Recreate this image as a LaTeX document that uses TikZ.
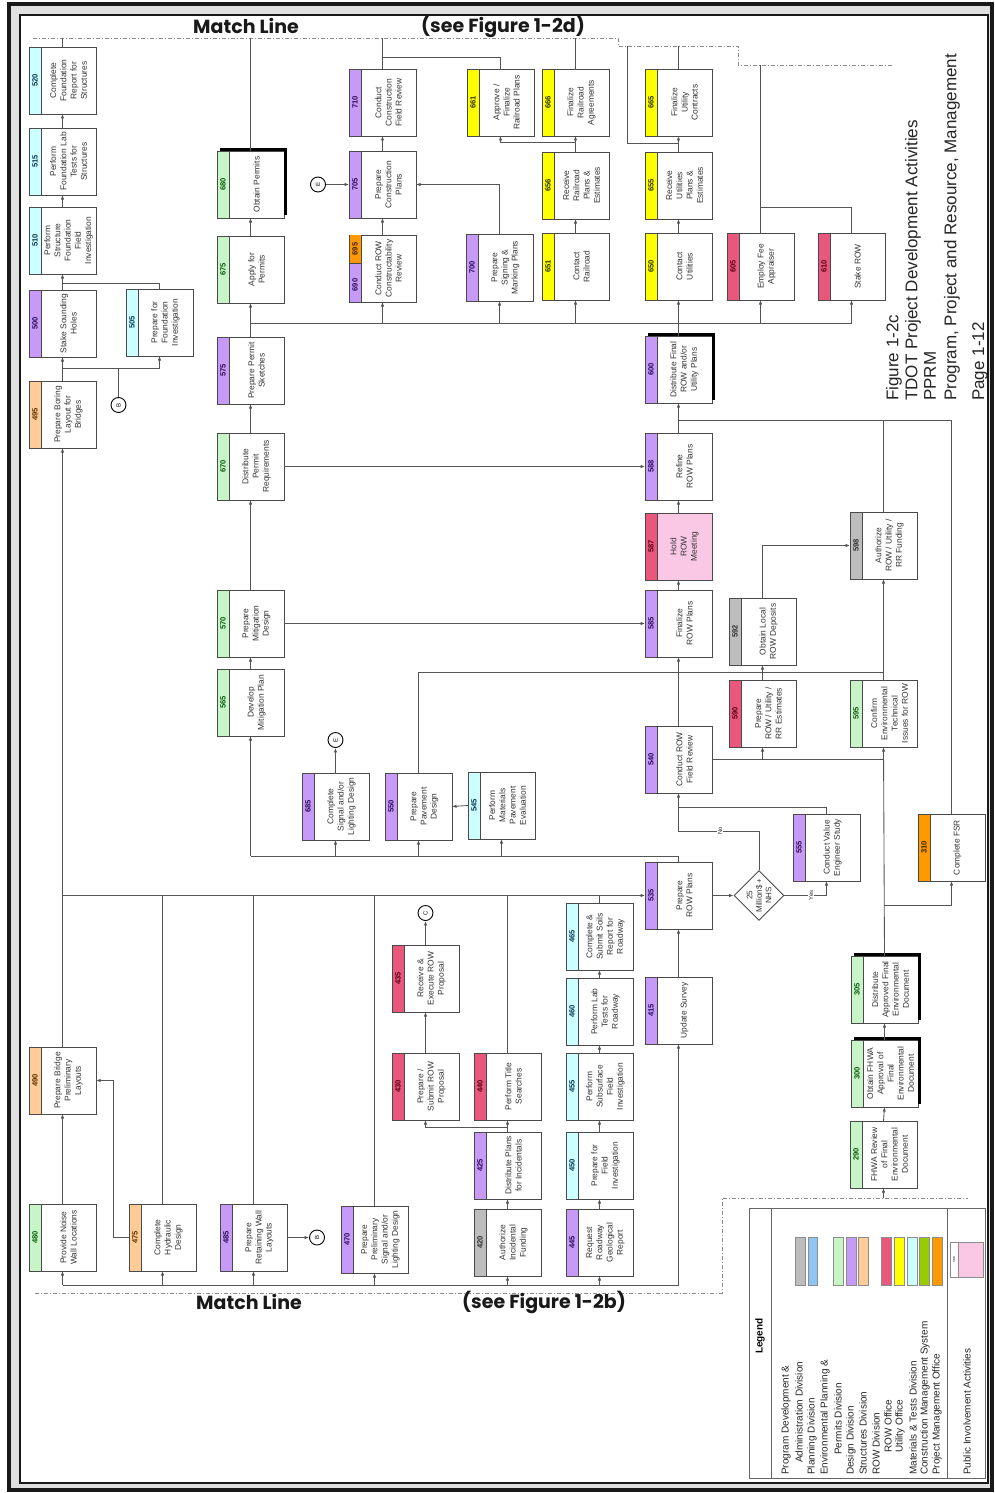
\documentclass[tikz,border=0pt]{standalone}
\usepackage{fontspec}
\usepackage{graphicx}
\setmainfont{Liberation Sans}
\newfontfamily\matchfont{Poppins}
\usetikzlibrary{arrows.meta,shapes.geometric,calc}

% division colours (strip fill) and matching number colours
\definecolor{cGray}{HTML}{BDBDBD}\definecolor{nGray}{HTML}{2E2E2E}
\definecolor{cBlue}{HTML}{8EC5F2}\definecolor{nBlue}{HTML}{0A2A55}
\definecolor{cEnv}{HTML}{C8F5C8}\definecolor{nEnv}{HTML}{0B5A0B}
\definecolor{cDes}{HTML}{C69AF6}\definecolor{nDes}{HTML}{2A0A5A}
\definecolor{cStr}{HTML}{FFCB96}\definecolor{nStr}{HTML}{5A3000}
\definecolor{cRow}{HTML}{E9587C}\definecolor{nRow}{HTML}{5A0012}
\definecolor{cUti}{HTML}{FFFF00}\definecolor{nUti}{HTML}{2E2E00}
\definecolor{cMat}{HTML}{CCFFFF}\definecolor{nMat}{HTML}{0A3350}
\definecolor{cCms}{HTML}{99CC00}\definecolor{nCms}{HTML}{203000}
\definecolor{cPmo}{HTML}{FF9900}\definecolor{nPmo}{HTML}{3A2000}
\definecolor{cPub}{HTML}{FAC8E4}
\definecolor{lineC}{HTML}{555555}
\definecolor{boxC}{HTML}{4A4A4A}
\definecolor{textC}{HTML}{333333}

\tikzset{
  taskbox/.style={rectangle, minimum width=67pt, minimum height=67pt, inner sep=0pt, outer sep=0pt},
  boxline/.style={draw=boxC, line width=0.9pt},
  tasktext/.style={rotate=90, align=center, text=textC, inner sep=0pt, font=\fontsize{8.4}{10.2}\selectfont},
  numtext/.style={rotate=90, inner sep=0pt, font=\bfseries\fontsize{7.6}{8}\selectfont},
  ln/.style={draw=lineC, line width=0.85pt},
  ar/.style={ln, -{Latex[length=4.5pt,width=3.4pt]}},
  conn/.style={circle, draw=black, line width=0.9pt, minimum size=15pt, inner sep=0pt, fill=white},
  yesno/.style={rotate=90, inner sep=1pt, fill=white, font=\fontsize{6}{6}\selectfont, text=textC},
  matchdash/.style={draw=black!45, line width=0.8pt, dash pattern=on 4pt off 2pt on 1pt off 2pt},
  heavy/.style={line width=3pt, draw=black},
  titletext/.style={rotate=90, anchor=west, inner sep=0pt, text=black!85, font=\fontsize{17}{17}\selectfont},
  legtext/.style={rotate=90, anchor=west, inner sep=0pt, text=black!85, font=\fontsize{10}{10}\selectfont},
  matchtext/.style={inner sep=0pt, text=black!90, font=\matchfont\bfseries\fontsize{19}{19}\selectfont},
  swatch/.style={draw=black!45, line width=0.6pt},
}

% activity box: [body fill] name, left x, top y, division key, number, text
\newcommand\tbox[7][white]{%
  \node[taskbox, fill=#1] (#2) at (#3+33.5,#4+33.5) {};
  \fill[c#5] (#2.north west) rectangle ([xshift=12pt]#2.south west);
  \draw[boxline] (#2.north west) rectangle (#2.south east);
  \draw[boxline] ([xshift=12pt]#2.north west) -- ([xshift=12pt]#2.south west);
  \node[numtext, text=n#5] at ([xshift=6pt]#2.west) {#6};
  \node[tasktext] at ([xshift=6pt]#2.center) {#7};
}
% heavy edge along the top and right of milestone boxes
\newcommand\heavyedge[1]{%
  \draw[heavy] ([shift={(3pt,1.5pt)}]#1.north west) -- ([shift={(1.5pt,1.5pt)}]#1.north east)
    -- ([shift={(1.5pt,3pt)}]#1.south east);}

\begin{document}
\begin{tikzpicture}[x=1pt,y=-1pt]
\useasboundingbox (0,0) rectangle (994,1493);
\fill[white] (0,0) rectangle (994,1493);

% page frame
\fill[black!12, even odd rule] (9,4) rectangle (992,1490) (20,15) rectangle (988,1483);
\draw[line width=4pt, black!90] (9,4) rectangle (992,1490);
\draw[line width=1.6pt, black!90] (20,15) rectangle (988,1483);

% match lines
\draw[matchdash] (33,38) -- (618,38) -- (618,46) -- (738,46) -- (738,65) -- (893,65);
\draw[matchdash] (35,1293) -- (722,1293) -- (722,1198) -- (968,1198);
\node[matchtext] (mlt) at (246,26) {Match Line};
\node[matchtext] (sft) at (503,26) {(see Figure 1-2d)};
\node[matchtext] (mlb) at (249,1302) {Match Line};
\node[matchtext] (sfb) at (544,1302) {(see Figure 1-2b)};

% ---------------- activity boxes ----------------
\tbox{n520}{29}{47}{Mat}{520}{Complete\\Foundation\\Report for\\Structures}
\tbox{n515}{29}{128}{Mat}{515}{Perform\\Foundation Lab\\Tests for\\Structures}
\tbox{n510}{29}{207}{Mat}{510}{Perform\\Structure\\Foundation\\Field\\Investigation}
\tbox{n500}{29}{290}{Des}{500}{Stake Sounding\\Holes}
\tbox{n505}{126}{289}{Mat}{505}{Prepare for\\Foundation\\Investigation}
\tbox{n495}{29}{381}{Str}{495}{Prepare Boring\\Layout for\\Bridges}
\tbox{n490}{29}{1047}{Str}{490}{Prepare Bridge\\Preliminary\\Layouts}
\tbox{n480}{29}{1204}{Env}{480}{Provide Noise\\Wall Locations}
\tbox{n475}{129}{1204}{Str}{475}{Complete\\Hydraulic\\Design}
\tbox{n485}{220}{1204}{Des}{485}{Prepare\\Retaining Wall\\Layouts}

\tbox{n680}{217}{151}{Env}{680}{Obtain Permits}
\tbox{n675}{217}{236}{Env}{675}{Apply for\\Permits}
\tbox{n575}{217}{337}{Des}{575}{Prepare Permit\\Sketches}
\tbox{n670}{217}{433}{Env}{670}{Distribute\\Permit\\Requirements}
\tbox{n570}{217}{590}{Env}{570}{Prepare\\Mitigation\\Design}
\tbox{n565}{217}{669}{Env}{565}{Develop\\Mitigation Plan}

\tbox{n710}{349}{69}{Des}{710}{Conduct\\Construction\\Field Review}
\tbox{n705}{349}{151}{Des}{705}{Prepare\\Construction\\Plans}
\tbox{n690}{349}{235}{Des}{}{Conduct ROW\\Constructability\\Review}
\fill[cPmo] (n690.north west) rectangle ([xshift=12pt,yshift=-28pt]n690.north west);
\draw[boxline] (n690.north west) -- (n690.south west);
\draw[boxline] ([xshift=12pt]n690.north west) -- ([xshift=12pt]n690.south west);
\draw[boxline] ([yshift=-28pt]n690.north west) -- ([xshift=12pt,yshift=-28pt]n690.north west);
\node[numtext, text=nPmo] at ([xshift=6pt,yshift=-14pt]n690.north west) {695};
\node[numtext, text=nDes] at ([xshift=6pt,yshift=17pt]n690.south west) {690};

\tbox{n661}{467}{69}{Uti}{661}{Approve /\\Finalize\\Railroad Plans}
\tbox{n700}{466}{234}{Des}{700}{Prepare\\Signing \&\\Marking Plans}
\tbox{n666}{542}{69}{Uti}{666}{Finalize\\Railroad\\Agreements}
\tbox{n656}{542}{152}{Uti}{656}{Receive\\Railroad\\Plans \&\\Estimates}
\tbox{n651}{542}{233}{Uti}{651}{Contact\\Railroad}
\tbox{n665}{645}{69}{Uti}{665}{Finalize\\Utility\\Contracts}
\tbox{n655}{645}{152}{Uti}{655}{Receive\\Utilities\\Plans \&\\Estimates}
\tbox{n650}{645}{233}{Uti}{650}{Contact\\Utilities}
\tbox{n605}{727}{233}{Row}{605}{Employ Fee\\Appraiser}
\tbox{n610}{818}{233}{Row}{610}{Stake ROW}

\tbox{n600}{645}{336}{Des}{600}{Distribute Final\\ROW and/or\\Utility Plans}
\tbox{n588}{645}{433}{Des}{588}{Refine\\ROW Plans}
\tbox[cPub]{n587}{645}{513}{Row}{587}{Hold\\ROW\\Meeting}
\tbox{n585}{645}{590}{Des}{585}{Finalize\\ROW Plans}
\tbox{n540}{645}{726}{Des}{540}{Conduct ROW\\Field Review}
\tbox{n535}{645}{862}{Des}{535}{Prepare\\ROW Plans}
\tbox{n415}{645}{977}{Des}{415}{Update Survey}

\tbox{n592}{729}{598}{Gray}{592}{Obtain Local\\ROW Deposits}
\tbox{n590}{729}{680}{Row}{590}{Prepare\\ROW / Utility /\\RR Estimates}
\tbox{n598}{850}{512}{Gray}{598}{Authorize\\ROW / Utility /\\RR Funding}
\tbox{n595}{850}{680}{Env}{595}{Confirm\\Environmental\\Technical\\Issues for ROW}

\tbox{n685}{302}{773}{Des}{685}{Complete\\Signal and/or\\Lighting Design}
\tbox{n550}{385}{773}{Des}{550}{Prepare\\Pavement\\Design}
\tbox{n545}{468}{772}{Mat}{545}{Perform\\Materials\\Pavement\\Evaluation}
\tbox{n555}{793}{814}{Des}{555}{Conduct Value\\Engineer Study}
\tbox{n310}{918}{814}{Pmo}{310}{Complete FSR}

\tbox{n435}{392}{945}{Row}{435}{Receive \&\\Execute ROW\\Proposal}
\tbox{n430}{392}{1053}{Row}{430}{Prepare /\\Submit ROW\\Proposal}
\tbox{n440}{474}{1053}{Row}{440}{Perform Title\\Searches}
\tbox{n425}{474}{1132}{Des}{425}{Distribute Plans\\for Incidentals}
\tbox{n420}{474}{1209}{Gray}{420}{Authorize\\Incidental\\Funding}
\tbox{n470}{341}{1206}{Des}{470}{Prepare\\Preliminary\\Signal and/or\\Lighting Design}

\tbox{n465}{566}{903}{Mat}{465}{Complete \&\\Submit Soils\\Report for\\Roadway}
\tbox{n460}{566}{978}{Mat}{460}{Perform Lab\\Tests for\\Roadway}
\tbox{n455}{566}{1053}{Mat}{455}{Perform\\Subsurface\\Field\\Investigation}
\tbox{n450}{566}{1132}{Mat}{450}{Prepare for\\Field\\Investigation}
\tbox{n445}{566}{1209}{Des}{445}{Request\\Roadway\\Geological\\Report}

\tbox{n305}{851}{956}{Env}{305}{Distribute\\Approved Final\\Environmental\\Document}
\tbox{n300}{851}{1040}{Env}{300}{Obtain FHWA\\Approval of\\Final\\Environmental\\Document}
\tbox{n290}{850}{1121}{Env}{290}{FHWA Review\\of Final\\Environmental\\Document}

\heavyedge{n680}
\heavyedge{n600}
\heavyedge{n305}
\heavyedge{n300}

% decision and off-page connectors
\node[diamond, draw=boxC, line width=0.9pt, fill=white, minimum width=50pt, minimum height=50pt, inner sep=0pt] (dv) at (759,895.5) {};
\node[rotate=90, align=center, inner sep=0pt, text=textC, font=\fontsize{8}{9.5}\selectfont] (dvt) at (759,895.5) {25\\Million\$ +\\NHS};
\node[conn] (cB1) at (118.5,405) {\rotatebox{90}{\fontsize{6}{6}\selectfont B}};
\node[conn] (cB2) at (317,1237.5) {\rotatebox{90}{\fontsize{6}{6}\selectfont B}};
\node[conn] (cE1) at (318,184.5) {\rotatebox{90}{\fontsize{6}{6}\selectfont E}};
\node[conn] (cE2) at (335.5,740) {\rotatebox{90}{\fontsize{6}{6}\selectfont E}};
\node[conn] (cC) at (425.5,913) {\rotatebox{90}{\fontsize{6}{6}\selectfont C}};

% ---------------- connectors ----------------
\coordinate (mt) at (62.5,38);
% foundation investigation
\coordinate (j510) at (62.5,283);
\draw[ln] (n500.north) -- (j510);
\draw[ln] (n505.north) |- (j510);
\draw[ar] (j510) -- (n510.south);
\draw[ar] (n510.north) -- (n515.south);
\draw[ar] (n515.north) -- (n520.south);
\draw[ln] (n520.north) -- (mt);
\coordinate (j500) at (62.5,368);
\draw[ln] (n495.north) -- (j500);
\draw[ar] (j500) -- (n500.south);
\draw[ar] (j500) -| (n505.south);
\draw[ln] (cB1.north) -- (cB1.north |- j500);

% main design bus
\coordinate (jL) at (62.5,895.5);
\draw[ln] (n490.north) -- (jL);
\draw[ar] (jL) -- (n495.south);
\draw[ar] (jL) -- (n535.west);
\foreach \n in {n475,n485,n470,n440,n465} \draw[ln] (\n.north) -- (\n.north |- jL);

% ROW plans feed design activities
\coordinate (j856) at (250.5,856);
\draw[ln] (n535.north) |- (j856);
\draw[ar] (j856) -- (n565.south);
\foreach \n in {n685,n550,n545} \draw[ar] (\n.south |- j856) -- (\n.south);
\draw[ar] (n685.north) -- (cE2.south);
\draw[ar] (n545.west) -- (n550.east);

\coordinate (j672) at (883.5,672);
\draw[ln] (n550.north) |- (j672);
\draw[ar] (n590.north) -- (n592.south);
\draw[ar] (n595.north) -- (n598.south);
\draw[ar] (n592.north) |- (n598.west);

% ROW plans chain
\draw[ar] (n540.north) -- (n585.south);
\draw[ar] (n585.north) -- (n587.south);
\draw[ar] (n587.north) -- (n588.south);
\draw[ar] (n570.east) -- (n585.west);
\draw[ar] (n670.east) -- (n588.west);
\coordinate (j600) at (678.5,420);
\draw[ln] (n588.north) -- (j600);
\draw[ar] (j600) -- (n600.south);
\draw[ln] (n310.north) |- (j600);
\draw[ln] (n598.north) -- (n598.north |- j600);

\draw[ln] (n540.east) -- (n540.east -| n595.south);
\draw[ar] (n540.east -| n590.south) -- (n590.south);
\draw[ar] (n305.north) -- (n595.south);
\coordinate (j310) at (883.5,905);
\draw[ar] (j310) -| (n310.south);

% value engineering decision
\draw[ar] (n535.east) -- (dv.west);
\coordinate (kno) at (759,831);
\coordinate (kno2) at (678.5,831);
\draw[ar] (dv.north) -- (kno) -- (kno2) -- (n540.south);
\node[yesno] (lno) at (720,831) {No};
\draw[ar] (dv.east) -| (n555.south);
\node[yesno] (lyes) at (811,895.5) {Yes};
\coordinate (k555) at (678.5,807);
\draw[ln] (n555.north) |- (k555);
\draw[ar] (n415.north) -- (n535.south);

% distribution of final plans
\coordinate (bL) at (250.5,323);
\coordinate (bR) at (851.5,323);
\draw[ln] (bL) -- (bR);
\draw[ln] (n600.north) -- (n600.north |- bL);
\foreach \n in {n690,n700,n651,n650,n605,n610} \draw[ar] (\n.south |- bL) -- (\n.south);
\draw[ar] (n575.north) -- (n675.south);
\draw[ar] (n670.north) -- (n575.south);
\draw[ar] (n570.north) -- (n670.south);
\draw[ar] (n565.north) -- (n570.south);
\draw[ar] (n675.north) -- (n680.south);
\draw[ln] (n680.north) -- (n680.north |- mt);

% construction plans
\draw[ar] (cE1.east) -- (n705.west);
\draw[ar] (n690.north) -- (n705.south);
\draw[ar] (n705.north) -- (n710.south);
\draw[ln] (n710.north) -- (n710.north |- mt);
\coordinate (k661) at (382.5,57);
\draw[ln] (n661.north) |- (k661);
\draw[ar] (n700.north) |- (n705.east);

% railroad
\draw[ar] (n651.north) -- (n656.south);
\coordinate (j656) at (575.5,142);
\draw[ln] (n656.north) -- (j656);
\draw[ar] (j656) -- (n666.south);
\draw[ar] (j656) -| (n661.south);
\draw[ln] (n666.north) -- (n666.north |- mt);

% utilities
\draw[ar] (n650.north) -- (n655.south);
\draw[ar] (n655.north) -- (n665.south);
\coordinate (j655) at (678.5,143);
\coordinate (k627) at (627,143);
\coordinate (m627) at (627,46);
\draw[ln] (j655) -- (k627) -- (m627);
\coordinate (m665) at (678.5,46);
\draw[ln] (n665.north) -- (m665);

% appraisal and staking
\coordinate (j605) at (760.5,207);
\coordinate (m605) at (760.5,65);
\draw[ln] (n605.north) -- (j605) -- (m605);
\draw[ln] (j605) -| (n610.north);

% bridges, walls, hydraulics
\draw[ar] (n480.north) -- (n490.south);
\coordinate (k475) at (113,1237.5);
\draw[ar] (n475.west) -- (k475) |- (n490.east);
\draw[ar] (n485.east) -- (cB2.west);

% incidentals and ROW proposal
\draw[ar] (n420.north) -- (n425.south);
\coordinate (j425) at (507.5,1127.5);
\draw[ln] (n425.north) -- (j425);
\draw[ar] (j425) -- (n440.south);
\draw[ar] (j425) -| (n430.south);
\draw[ar] (n430.north) -- (n435.south);
\draw[ar] (n435.north) -- (cC.south);

% geotechnical chain
\draw[ar] (n445.north) -- (n450.south);
\draw[ar] (n450.north) -- (n455.south);
\draw[ar] (n455.north) -- (n460.south);
\draw[ar] (n460.north) -- (n465.south);

% incoming bus from previous sheet
\coordinate (bb1) at (62.5,1285);
\coordinate (bb2) at (678.5,1285);
\draw[ln] (bb1) -- (bb2);
\foreach \n in {n480,n475,n485,n470,n420,n445} \draw[ar] (\n.south |- bb1) -- (\n.south);
\draw[ar] (bb2) -- (n415.south);

% environmental document chain
\coordinate (m290) at (883.5,1198);
\draw[ar] (m290) -- (n290.south);
\draw[ar] (n290.north) -- (n300.south);
\draw[ar] (n300.north) -- (n305.south);

% ---------------- title block ----------------
\node[titletext] (t1) at (894,401) {Figure 1-2c};
\node[titletext] (t2) at (913,401) {TDOT Project Development Activities};
\node[titletext] (t3) at (930,401) {PPRM};
\node[titletext] (t4) at (952,401) {Program, Project and Resource, Management};
\node[titletext] (t5) at (980,401) {Page 1-12};

% ---------------- legend ----------------
\draw[line width=0.9pt, draw=black!60] (749,1208) rectangle (985,1478);
\draw[line width=0.9pt, draw=black!60] (771,1208) -- (771,1478);
\draw[line width=0.9pt, draw=black!60] (947,1208) -- (947,1478);
\node[rotate=90, inner sep=0pt, font=\bfseries\fontsize{10}{10}\selectfont] (lgh) at (760,1336) {Legend};
\node[legtext] at (786,1475) {Program Development \&};
\node[legtext] at (799,1463) {Administration Division};
\node[legtext] at (812,1475) {Planning Division};
\node[legtext] at (825,1475) {Environmental Planning \&};
\node[legtext] at (838,1455) {Permits Division};
\node[legtext] at (851,1475) {Design Division};
\node[legtext] at (863,1475) {Structures Division};
\node[legtext] at (876,1475) {ROW Division};
\node[legtext] at (888,1453) {ROW Office};
\node[legtext] at (900,1453) {Utility Office};
\node[legtext] at (913,1475) {Materials \& Tests Division};
\node[legtext] at (925,1475) {Construction Management System};
\node[legtext] at (937,1475) {Project Management Office};
\node[legtext] at (967,1475) {Public Involvement Activities};
\draw[swatch, fill=cGray] (795,1237) rectangle (805,1285);
\draw[swatch, fill=cBlue] (808,1237) rectangle (817,1285);
\draw[swatch, fill=cEnv] (833,1237) rectangle (843,1285);
\draw[swatch, fill=cDes] (846,1237) rectangle (856,1285);
\draw[swatch, fill=cStr] (858,1237) rectangle (868,1285);
\draw[swatch, fill=cRow] (881,1237) rectangle (891,1285);
\draw[swatch, fill=cUti] (894,1237) rectangle (904,1285);
\draw[swatch, fill=cMat] (907,1237) rectangle (917,1285);
\draw[swatch, fill=cCms] (919,1237) rectangle (929,1285);
\draw[swatch, fill=cPmo] (932,1237) rectangle (942,1285);
\draw[swatch, fill=white] (950,1242) rectangle (958,1277);
\draw[swatch, fill=cPub] (958,1242) rectangle (983,1277);
\node[rotate=90, inner sep=0pt, font=\fontsize{3}{3}\selectfont] (lps) at (954,1259.5) {588};

\end{tikzpicture}
\end{document}
